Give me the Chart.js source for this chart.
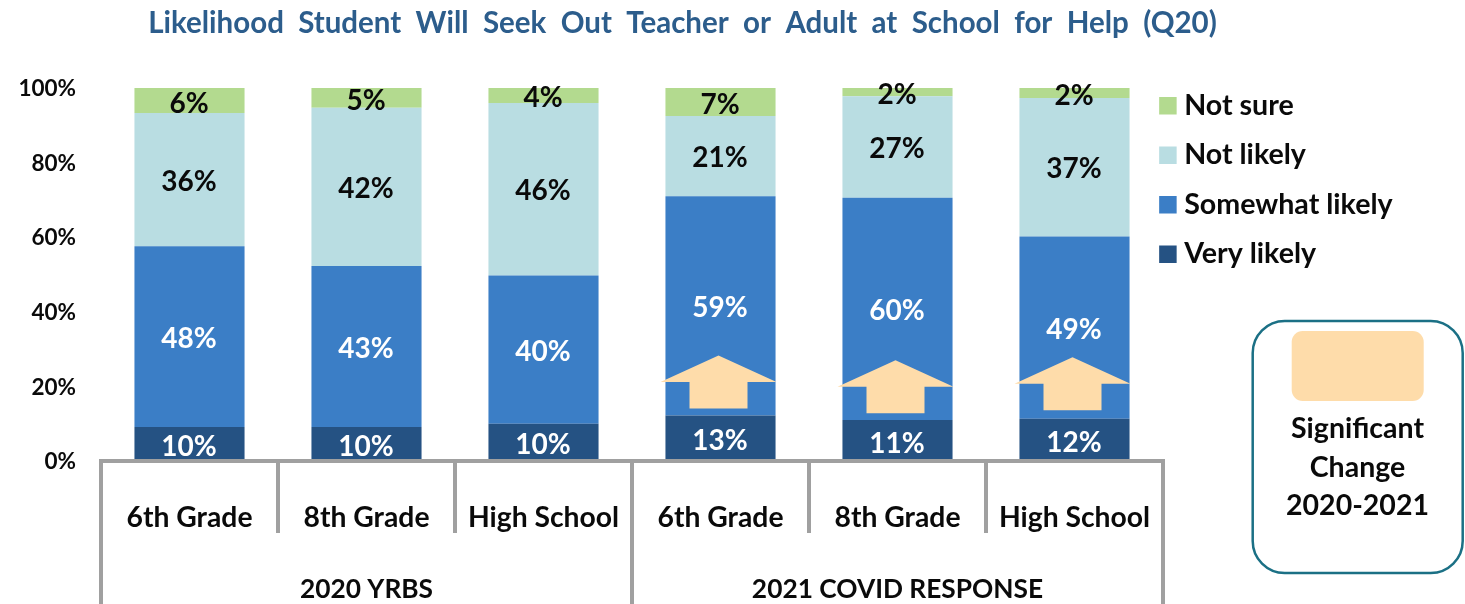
<!DOCTYPE html>
<html>
<head>
<meta charset="utf-8">
<title>Likelihood Student Will Seek Out Teacher or Adult at School for Help (Q20)</title>
<script src="https://cdn.jsdelivr.net/npm/chart.js@4"></script>
<style>html,body{margin:0;padding:0;background:#fff}canvas{display:block}</style>
</head>
<body>
<canvas id="c" width="1465" height="604"></canvas>
<script>
const titleText = 'Likelihood  Student  Will  Seek  Out  Teacher  or  Adult  at  School  for  Help  (Q20)';
const categories = ['6th Grade','8th Grade','High School','6th Grade','8th Grade','High School'];
const groups = ['2020 YRBS','2021 COVID RESPONSE'];
const veryLikely = [9.1,9.1,10.0,12.2,11.0,11.3];
const somewhatLikely = [48.5,43.2,39.7,58.8,59.6,48.9];
const notLikely = [35.7,42.4,46.3,21.5,27.2,37.1];
const notSure = [6.7,5.3,4.0,7.5,2.2,2.7];
const veryLikelyLabels = ['10%','10%','10%','13%','11%','12%'];
const somewhatLikelyLabels = ['48%','43%','40%','59%','60%','49%'];
const notLikelyLabels = ['36%','42%','46%','21%','27%','37%'];
const notSureLabels = ['6%','5%','4%','7%','2%','2%'];
const arrowCategories = [3,4,5];
const arrowTips = [28.3,27.0,27.8];
const noteLines = ['Significant','Change','2020-2021'];

const FONT = 'Lato, Carlito, "Open Sans", sans-serif';
const BLACK = '#0a0a0a';
const GREY = '#a0a0a0';
const PEACH = '#fedcaa';
const segmentLabels = [veryLikelyLabels, somewhatLikelyLabels, notLikelyLabels, notSureLabels];
const labelColors = ['#ffffff','#ffffff',BLACK,BLACK];
const labelShift = [3,2,2,3];

const drawing = {
  id: 'drawing',
  afterLayout(chart) {
    const lg = chart.legend, tb = chart.titleBlock;
    lg.left = 1145; lg.right = 1460; lg.top = 70.5; lg.bottom = 290;
    tb.left = 0; tb.right = 1365;
  },
  afterDatasetsDraw(chart) {
    const ctx = chart.ctx, x = chart.scales.x, y = chart.scales.y;
    ctx.save();
    // significant-change arrows
    ctx.fillStyle = PEACH;
    arrowCategories.forEach((cat, i) => {
      const cx = x.getPixelForValue(cat) - 2, ty = y.getPixelForValue(arrowTips[i]);
      ctx.beginPath();
      ctx.moveTo(cx, ty);
      ctx.lineTo(cx + 58, ty + 26.5);
      ctx.lineTo(cx + 29, ty + 26.5);
      ctx.lineTo(cx + 29, ty + 53);
      ctx.lineTo(cx - 29, ty + 53);
      ctx.lineTo(cx - 29, ty + 26.5);
      ctx.lineTo(cx - 58, ty + 26.5);
      ctx.closePath();
      ctx.fill();
    });
    // value labels
    ctx.font = 'bold 28px ' + FONT;
    ctx.textAlign = 'center';
    ctx.textBaseline = 'middle';
    segmentLabels.forEach((labels, d) => {
      const meta = chart.getDatasetMeta(d);
      ctx.fillStyle = labelColors[d];
      labels.forEach((t, i) => {
        const b = meta.data[i];
        ctx.fillText(t, b.x - 0.5, (b.y + b.base) / 2 + labelShift[d]);
      });
    });
    // multi-level axis frame
    const edge = i => x.getPixelForValue(i) - (x.getPixelForValue(1) - x.getPixelForValue(0)) / 2;
    const axisY = y.getPixelForValue(0), bottom = chart.height;
    ctx.strokeStyle = GREY;
    ctx.lineWidth = 4;
    ctx.beginPath();
    ctx.moveTo(edge(0) - 2, axisY);
    ctx.lineTo(edge(6) + 2, axisY);
    [0,3,6].forEach(i => { ctx.moveTo(edge(i), axisY); ctx.lineTo(edge(i), bottom); });
    [1,2,4,5].forEach(i => { ctx.moveTo(edge(i), axisY); ctx.lineTo(edge(i), axisY + 72); });
    ctx.stroke();
    // group labels
    ctx.fillStyle = BLACK;
    ctx.font = 'bold 26.3px ' + FONT;
    groups.forEach((g, i) => {
      ctx.fillText(g, (edge(i * 3) + edge(i * 3 + 3)) / 2, 590);
    });
    // significance key
    ctx.strokeStyle = '#1b7085';
    ctx.lineWidth = 2.5;
    ctx.beginPath();
    ctx.roundRect(1252.7, 321, 210, 252, 32);
    ctx.stroke();
    ctx.fillStyle = PEACH;
    ctx.beginPath();
    ctx.roundRect(1291.7, 331, 132, 70, 11);
    ctx.fill();
    ctx.fillStyle = BLACK;
    ctx.font = 'bold 28.5px ' + FONT;
    noteLines.forEach((t, i) => ctx.fillText(t, 1357.5, 429 + i * 38.5));
    ctx.restore();
  }
};

new Chart(document.getElementById('c'), {
  type: 'bar',
  data: {
    labels: categories,
    datasets: [
      {label:'Very likely', data:veryLikely, backgroundColor:'#255283'},
      {label:'Somewhat likely', data:somewhatLikely, backgroundColor:'#3b7ec6'},
      {label:'Not likely', data:notLikely, backgroundColor:'#b9dde2'},
      {label:'Not sure', data:notSure, backgroundColor:'#b3da8f'}
    ]
  },
  options: {
    responsive: false,
    animation: false,
    devicePixelRatio: 1,
    layout: {padding: {left:0, top:0, bottom:0, right:302}},
    datasets: {bar: {categoryPercentage:1, barPercentage:0.622, borderWidth:0}},
    plugins: {
      tooltip: {enabled:false},
      title: {
        display: true,
        text: titleText,
        color: '#2c5d8c',
        font: {family:FONT, size:29.5, weight:'bold', lineHeight:1.2},
        padding: {top:6, bottom:46.6}
      },
      legend: {
        position: 'chartArea',
        reverse: true,
        align: 'start',
        labels: {
          usePointStyle: true,
          pointStyle: 'rect',
          boxWidth: 4,
          boxHeight: 17.5,
          color: BLACK,
          padding: 20.9,
          font: {family:FONT, size:28.6, weight:'bold', lineHeight:1.2}
        }
      }
    },
    scales: {
      x: {
        stacked: true,
        grid: {display:false, drawTicks:false},
        border: {display:false},
        afterFit: s => { s.height = 143; },
        ticks: {autoSkip:false, maxRotation:0, minRotation:0, padding:40, color:BLACK,
                font: {family:FONT, size:28.3, weight:'bold', lineHeight:1.2}}
      },
      y: {
        stacked: true,
        min: 0, max: 100,
        grid: {display:false, drawTicks:false},
        border: {display:false},
        afterFit: s => { s.width = 101; },
        ticks: {stepSize:20, padding:25, labelOffset:1, color:BLACK, callback: v => v + '%',
                font: {family:FONT, size:22.5, weight:'bold', lineHeight:1.2}}
      }
    }
  },
  plugins: [drawing]
});
</script>
</body>
</html>
